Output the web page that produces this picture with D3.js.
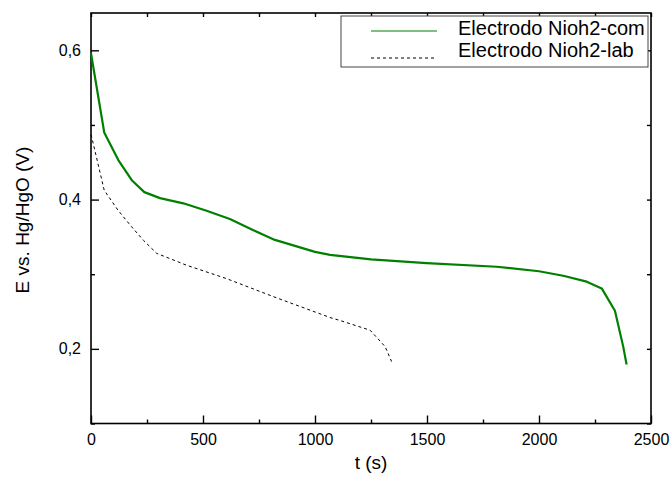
<!DOCTYPE html>
<html>
<head>
<meta charset="utf-8">
<script src="https://cdn.jsdelivr.net/npm/d3@7"></script>
<style>
  html, body { margin: 0; padding: 0; background: #fff; }
  svg { display: block; font-family: "Liberation Sans", Arial, sans-serif; }
</style>
</head>
<body>
<svg id="chart" width="670" height="480"></svg>
<script>
// Data
const seriesNames = ["Electrodo Nioh2-com", "Electrodo Nioh2-lab"];
const comTime = [0, 59, 122, 182, 238, 308, 412, 516, 620, 725, 821, 1000, 1067, 1250, 1498, 1811, 2000, 2108, 2213, 2280, 2339, 2376, 2391];
const comE    = [0.596, 0.490, 0.453, 0.426, 0.410, 0.402, 0.395, 0.385, 0.374, 0.359, 0.346, 0.330, 0.326, 0.320, 0.315, 0.310, 0.304, 0.298, 0.290, 0.281, 0.251, 0.203, 0.179];
const labTime = [0, 3, 59, 120, 180, 234, 293, 427, 606, 814, 1067, 1112, 1246, 1313, 1342];
const labE    = [0.487, 0.484, 0.4125, 0.386, 0.364, 0.3455, 0.328, 0.312, 0.294, 0.270, 0.242, 0.238, 0.225, 0.203, 0.183];
const xTicks = [0, 500, 1000, 1500, 2000, 2500];
const xMinorTicks = [250, 750, 1250, 1750, 2250];
const yTicks = [0.2, 0.4, 0.6];
const yMinorTicks = [0.1, 0.3, 0.5];

const svg = d3.select("#chart");
const mLeft = 91, mRight = 651, mTop = 13, mBottom = 423.5;

const x = d3.scaleLinear().domain([0, 2500]).range([mLeft, mRight]);
const y = d3.scaleLinear().domain([0.1, 0.65]).range([mBottom, mTop]);

const fmt = d => d3.format(".1f")(d).replace(".", ",");

// Axes: ticks inward
const gx = svg.append("g").attr("transform", `translate(0,${mBottom})`)
  .call(d3.axisBottom(x).tickValues(xTicks).tickSize(-8).tickPadding(10).tickFormat(d3.format("d")));
const gxm = svg.append("g").attr("transform", `translate(0,${mBottom})`)
  .call(d3.axisBottom(x).tickValues(xMinorTicks).tickSize(-4).tickFormat(""));
const gy = svg.append("g").attr("transform", `translate(${mLeft},0)`)
  .call(d3.axisLeft(y).tickValues(yTicks).tickSize(-8).tickPadding(10).tickFormat(fmt));
const gym = svg.append("g").attr("transform", `translate(${mLeft},0)`)
  .call(d3.axisLeft(y).tickValues(yMinorTicks).tickSize(-4).tickFormat(""));
const gt = svg.append("g").attr("transform", `translate(0,${mTop})`)
  .call(d3.axisTop(x).tickValues(xTicks.concat(xMinorTicks)).tickSize(-4).tickFormat(""));
const gr = svg.append("g").attr("transform", `translate(${mRight},0)`)
  .call(d3.axisRight(y).tickValues(yTicks.concat(yMinorTicks)).tickSize(-4).tickFormat(""));

[gx, gxm, gy, gym, gt, gr].forEach(g => {
  g.select(".domain").remove();
  g.selectAll(".tick line").attr("stroke", "#000").attr("stroke-width", 1.4);
  g.selectAll(".tick text").attr("font-size", 16).attr("fill", "#000")
    .attr("font-family", "'Liberation Sans', Arial, sans-serif");
});
svg.append("rect").attr("x", mLeft).attr("y", mTop).attr("width", mRight - mLeft).attr("height", mBottom - mTop)
  .attr("fill", "none").attr("stroke", "#000").attr("stroke-width", 1.6);

// Lines
const line = d3.line().x(d => x(d[0])).y(d => y(d[1]));
const comData = comTime.map((t, i) => [t, comE[i]]);
const labData = labTime.map((t, i) => [t, labE[i]]);

svg.append("path").datum(comData).attr("d", line)
  .attr("fill", "none").attr("stroke", "#008000").attr("stroke-width", 2.2).attr("stroke-linejoin", "round");
svg.append("path").datum(labData).attr("d", line)
  .attr("fill", "none").attr("stroke", "#000").attr("stroke-width", 1).attr("stroke-dasharray", "3,3");

// Axis titles
svg.append("text").attr("x", 371).attr("y", 469).attr("text-anchor", "middle")
  .attr("font-size", 19).attr("fill", "#000").text("t (s)");
svg.append("text").attr("transform", `translate(28.5,220) rotate(-90)`)
  .attr("text-anchor", "middle").attr("font-size", 19).attr("fill", "#000").text("E vs. Hg/HgO (V)");

// Legend
const lg = svg.append("g");
lg.append("rect").attr("x", 341).attr("y", 16).attr("width", 307).attr("height", 51)
  .attr("fill", "#fff").attr("stroke", "#444").attr("stroke-width", 1);
lg.append("line").attr("x1", 371).attr("x2", 437).attr("y1", 31).attr("y2", 31)
  .attr("stroke", "#008000").attr("stroke-width", 1.2);
lg.append("line").attr("x1", 371).attr("x2", 437).attr("y1", 58).attr("y2", 58)
  .attr("stroke", "#000").attr("stroke-width", 1).attr("stroke-dasharray", "3,3");
lg.selectAll("text.leg").data(seriesNames).enter().append("text")
  .attr("x", 458).attr("y", (d, i) => 35 + i * 22)
  .attr("font-size", 20).attr("fill", "#000").text(d => d);
</script>
</body>
</html>
